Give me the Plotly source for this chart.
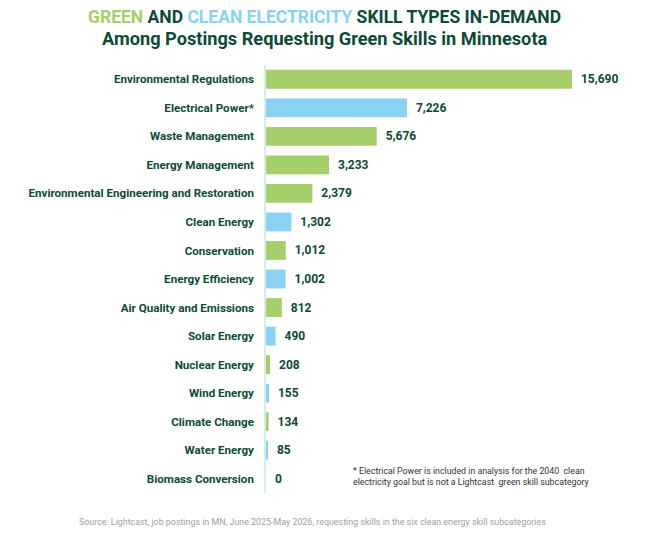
import plotly.graph_objects as go

categories = ["Environmental Regulations", "Electrical Power*", "Waste Management",
              "Energy Management", "Environmental Engineering and Restoration",
              "Clean Energy", "Conservation", "Energy Efficiency",
              "Air Quality and Emissions", "Solar Energy", "Nuclear Energy",
              "Wind Energy", "Climate Change", "Water Energy", "Biomass Conversion"]
values = [15690, 7226, 5676, 3233, 2379, 1302, 1012, 1002, 812, 490, 208, 155, 134, 85, 0]
skill_type = ["green", "clean", "green", "green", "green", "clean", "green", "clean",
              "green", "clean", "green", "clean", "green", "clean", "clean"]

GREEN = "#A6CF6B"
BLUE = "#89D2F2"
DARK = "#0D4A37"
colors = [GREEN if t == "green" else BLUE for t in skill_type]

fig = go.Figure(go.Bar(
    y=categories, x=values, orientation="h",
    marker=dict(color=colors, line=dict(width=0)),
    text=[f"  {v:,}" for v in values], textposition="outside",
    textfont=dict(family="Roboto", size=12, color=DARK, weight="bold"),
    cliponaxis=False, width=0.66,
))

W, H = 649, 540
L, R, T, B = 266, 0, 65, 47
pw = W - L - R
ph = H - T - B


def px2paper(px, py):
    return (px - L) / pw, (H - B - py) / ph


annotations = []
x, y = px2paper(324.5, 17)
annotations.append(dict(
    text=f"<b><span style='color:{GREEN}'>GREEN</span> AND "
         f"<span style='color:{BLUE}'>CLEAN ELECTRICITY</span> SKILL TYPES IN-DEMAND</b>",
    x=x, y=y, xref="paper", yref="paper", showarrow=False, xanchor="center", yanchor="middle",
    font=dict(family="Roboto", size=17.5, color=DARK)))
x, y = px2paper(324.5, 38)
annotations.append(dict(
    text="<b>Among Postings Requesting Green Skills in Minnesota</b>",
    x=x, y=y, xref="paper", yref="paper", showarrow=False, xanchor="center", yanchor="middle",
    font=dict(family="Roboto", size=18.2, color=DARK)))
x, y = px2paper(351, 476)
annotations.append(dict(
    text="* Electrical Power is included in analysis for the 2040  clean<br>"
         "electricity goal but is not a Lightcast  green skill subcategory",
    x=x, y=y, xref="paper", yref="paper", showarrow=False, align="left",
    xanchor="left", yanchor="middle", font=dict(family="Roboto", size=8.8, color="#333333")))
x, y = px2paper(77, 522)
annotations.append(dict(
    text="Source: Lightcast, job postings in MN, June 2025-May 2026, requesting skills in the six clean energy skill subcategories",
    x=x, y=y, xref="paper", yref="paper", showarrow=False, xanchor="left", yanchor="middle",
    font=dict(family="Roboto", size=8.9, color="#A0A0A0")))

fig.update_layout(
    width=W, height=H,
    margin=dict(l=L, r=R, t=T, b=B, autoexpand=False),
    plot_bgcolor="white", paper_bgcolor="white",
    showlegend=False,
    xaxis=dict(range=[0, 15690 * pw / 306], visible=False, showgrid=False, zeroline=False),
    yaxis=dict(autorange=False, range=[14.5, -0.5], showline=True, linecolor="#D3EEE6",
               linewidth=1.5, ticks="", showgrid=False, automargin=False,
               tickfont=dict(family="Roboto", size=11.6, color=DARK, weight="bold"),
               ticklabelstandoff=8),
    annotations=annotations,
)

fig.write_html("out.html", config={"displayModeBar": False},
               post_script="document.body.style.margin='0';")
